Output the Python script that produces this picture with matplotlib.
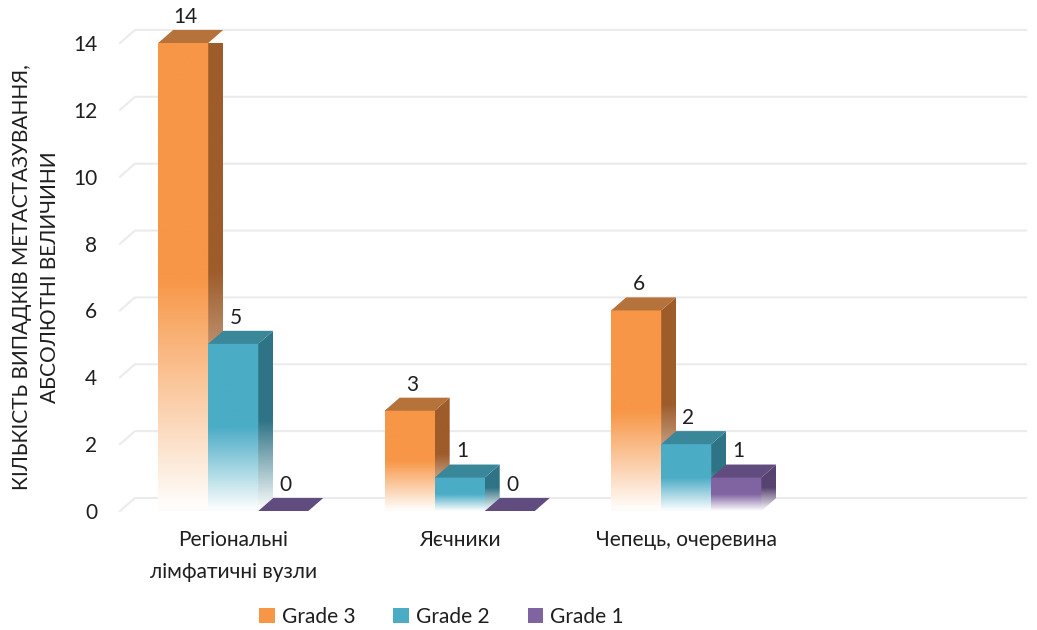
import numpy as np
import matplotlib
matplotlib.use("Agg")
import matplotlib.pyplot as plt
from matplotlib.patches import Polygon, Patch
from matplotlib.colors import to_rgb

plt.rcParams['font.family'] = ['Lato', 'DejaVu Sans']

categories = ['Регіональні\nлімфатичні вузли', 'Яєчники', 'Чепець, очеревина']
series = ['Grade 3', 'Grade 2', 'Grade 1']
grade3 = [14, 3, 6]
grade2 = [5, 1, 2]
grade1 = [0, 0, 1]
values = [grade3, grade2, grade1]
y_ticks = [0, 2, 4, 6, 8, 10, 12, 14]
y_title = 'КІЛЬКІСТЬ ВИПАДКІВ МЕТАСТАЗУВАННЯ,\nАБСОЛЮТНІ ВЕЛИЧИНИ'

front_col = ['#F79646', '#4BACC6', '#8064A2']
side_col = ['#9E5C2A', '#2F7486', '#56436F']
top_col = ['#B5723A', '#3A8799', '#614C7F']

n_slots = 4          # the category axis has one empty slot on the right
bar_w = 0.221
dx = 0.066           # depth offset in category units
dy = 0.39            # depth offset in value units
grid_col = '#EBEBEB'
txt_col = '#1F1F1F'
fs = 15


def shade(color, n=200):
    # colour fades to white over the lower half of the bar
    t = np.linspace(0, 1, n)[::-1]
    w = np.clip(t / 0.5, 0.03, 1.0)[:, None]
    c = np.array(to_rgb(color))[None, :]
    rgb = c * w + (1 - w)
    return rgb[:, None, :]


fig = plt.figure(figsize=(10.37, 6.30), dpi=100)
ax = fig.add_axes([120 / 1037, (630 - 511) / 630, 906 / 1037, 468 / 630])

for v in y_ticks:
    ax.plot([0, dx, n_slots], [v, v + dy, v + dy], color=grid_col, lw=1.5,
            zorder=1, clip_on=False)

z = 2
for i in range(len(categories)):
    centre = i + 0.5
    for j in range(len(series)):
        h = values[j][i]
        x0 = centre + (j - 1) * bar_w - bar_w / 2
        x1 = x0 + bar_w
        if h > 0:
            im = ax.imshow(shade(front_col[j]), extent=[x0, x1, 0, h],
                           aspect='auto', interpolation='bilinear', zorder=z)
            im.set_clip_on(False)
            side = Polygon([(x1, 0), (x1 + dx, dy), (x1 + dx, h + dy), (x1, h)],
                           closed=True, facecolor='none', edgecolor='none',
                           zorder=z, clip_on=False)
            ax.add_patch(side)
            im2 = ax.imshow(shade(side_col[j]), extent=[x1, x1 + dx, 0, h + dy],
                            aspect='auto', interpolation='bilinear', zorder=z)
            im2.set_clip_path(side)
        top = Polygon([(x0, h), (x1, h), (x1 + dx, h + dy), (x0 + dx, h + dy)],
                      closed=True, facecolor=top_col[j], edgecolor='none',
                      zorder=z + 0.5, clip_on=False)
        ax.add_patch(top)
        ax.text(x0 + bar_w / 2 + 0.01, h + 2 * dy, str(h), ha='center',
                va='center', fontsize=fs, color=txt_col, zorder=50)
        z += 1

ax.set_xlim(0, n_slots)
ax.set_ylim(0, 14)
ax.set_xticks([i + 0.5 for i in range(len(categories))])
ax.set_xticklabels(categories, fontsize=fs, color=txt_col, linespacing=1.75)
ax.set_yticks(y_ticks)
ax.set_yticklabels([str(v) for v in y_ticks], fontsize=fs, color=txt_col)
ax.tick_params(axis='x', length=0, pad=14)
ax.tick_params(axis='y', length=0, pad=16.5)
for s in ax.spines.values():
    s.set_visible(False)

fig.text(36 / 1037, 1 - 277 / 630, y_title, rotation=90, ha='center',
         va='center', fontsize=fs, color=txt_col, multialignment='center',
         linespacing=1.45)

handles = [Patch(facecolor=front_col[j], edgecolor='none', label=series[j])
           for j in range(len(series))]
fig.legend(handles=handles, loc='center', bbox_to_anchor=(0.426, 0.021),
           ncol=3, frameon=False, fontsize=fs, handlelength=0.75,
           handleheight=0.75, handletextpad=0.35, columnspacing=1.8,
           labelcolor=txt_col)

fig.savefig('out.png', dpi=100)
